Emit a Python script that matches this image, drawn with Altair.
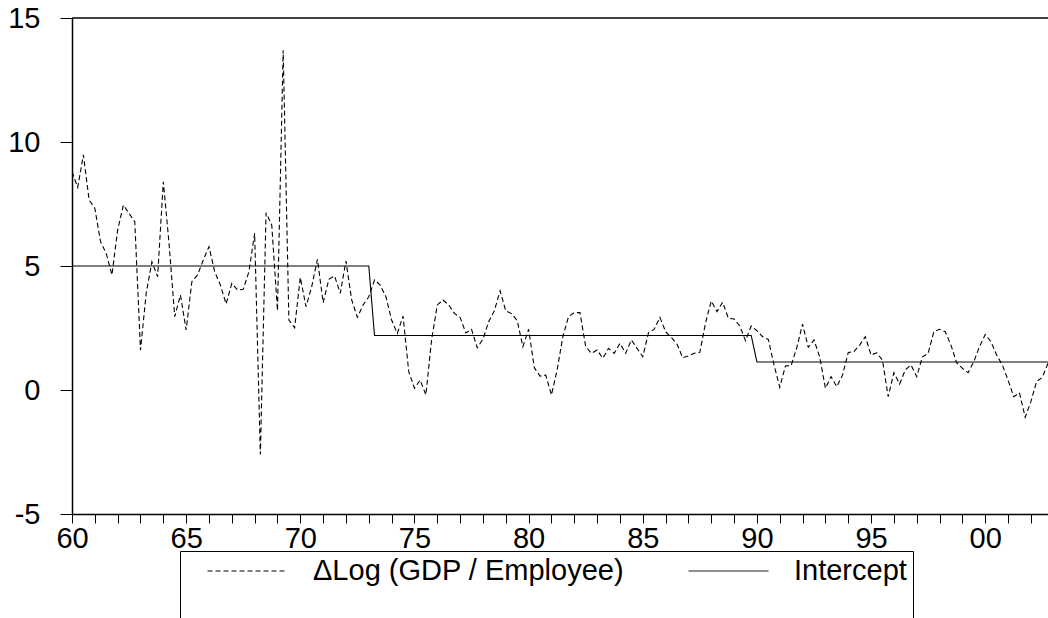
import altair as alt
import pandas as pd

# ---- data (quarterly, 1960Q1 ...) ----
start_year = 1960
gdp_growth = [
    8.8, 8.17, 9.48, 7.66, 7.33, 5.98, 5.51, 4.64, 6.45, 7.46,
    7.12, 6.79, 1.61, 3.9, 5.17, 4.57, 8.4, 5.91, 2.96, 3.83,
    2.42, 4.37, 4.64, 5.24, 5.78, 4.77, 4.23, 3.47, 4.3, 4.03,
    4.06, 4.77, 6.32, -2.6, 7.15, 6.65, 3.2, 13.7, 2.82, 2.51,
    4.54, 3.36, 4.17, 5.27, 3.52, 4.46, 4.6, 3.9, 5.2, 3.63,
    2.93, 3.43, 3.76, 4.44, 4.23, 3.76, 2.82, 2.28, 2.98, 0.74,
    0.07, 0.4, -0.2, 2.02, 3.43, 3.63, 3.43, 3.09, 2.93, 2.3,
    2.45, 1.7, 2.05, 2.75, 3.2, 4.0, 3.19, 3.08, 2.8, 1.75,
    2.45, 0.9, 0.56, 0.6, -0.2, 0.81, 2.15, 2.96, 3.12, 3.12,
    1.75, 1.48, 1.61, 1.28, 1.68, 1.48, 1.88, 1.48, 2.02, 1.68,
    1.34, 2.3, 2.45, 2.93, 2.35, 2.12, 1.85, 1.3, 1.37, 1.48,
    1.52, 2.7, 3.59, 3.16, 3.54, 2.89, 2.86, 2.58, 1.99, 2.58,
    2.39, 2.15, 2.04, 1.01, 0.11, 0.97, 0.99, 1.72, 2.66, 1.72,
    2.02, 1.34, 0.07, 0.54, 0.13, 0.6, 1.51, 1.55, 1.81, 2.15,
    1.41, 1.5, 1.2, -0.27, 0.7, 0.24, 0.81, 1.01, 0.54, 1.34,
    1.48, 2.35, 2.45, 2.35, 1.81, 1.1, 0.87, 0.7, 1.14, 1.75,
    2.24, 1.95, 1.41, 1.01, 0.4, -0.27, -0.11, -1.1, -0.47, 0.34,
    0.51, 1.08,
]
intercept_levels = [5.0, 2.2, 1.13]
intercept_breaks = [53, 120]          # first quarter index of each new regime
series_names = ["\u0394Log (GDP / Employee)", "Intercept"]
year_ticks = list(range(1960, 2003))
y_ticks = [-5, 0, 5, 10, 15]
x_domain = [1960, 2002.75]
y_domain = [-5, 15]

# ---- build table ----
n = len(gdp_growth)
years = [start_year + i / 4 for i in range(n)]
intercept = []
for i in range(n):
    lvl = intercept_levels[0]
    for b, v in zip(intercept_breaks, intercept_levels[1:]):
        if i >= b:
            lvl = v
    intercept.append(lvl)

df = pd.concat([
    pd.DataFrame({"year": years, "value": gdp_growth, "series": series_names[0]}),
    pd.DataFrame({"year": years, "value": intercept, "series": series_names[1]}),
])
frame_df = pd.DataFrame({"year": [x_domain[0]], "year_end": [x_domain[1]],
                         "value": [y_domain[1]]})

FONT = "Liberation Sans"
FS = 29

x_axis = alt.Axis(values=year_ticks, title=None, grid=False,
                  labelExpr="datum.value % 5 == 0 ? format(datum.value % 100, '02d') : ''",
                  labelOverlap=False, labelFlush=False, tickSize=9, labelPadding=1,
                  labelFontSize=FS, labelFont=FONT, labelColor="black",
                  tickColor="black", domainColor="black", domainWidth=1.5)
y_axis = alt.Axis(values=y_ticks, title=None, grid=False,
                  labelExpr="toString(datum.value)",
                  tickSize=12, labelPadding=20, labelFlush=False,
                  labelFontSize=FS, labelFont=FONT, labelColor="black",
                  tickColor="black", domainColor="black", domainWidth=1.5)
x_scale = alt.Scale(domain=x_domain, nice=False, zero=False)
y_scale = alt.Scale(domain=y_domain, nice=False, zero=False)

lines = alt.Chart(df).mark_line(color="black", strokeWidth=1.1, clip=True).encode(
    x=alt.X("year:Q", scale=x_scale, axis=x_axis),
    y=alt.Y("value:Q", scale=y_scale, axis=y_axis),
    strokeDash=alt.StrokeDash(
        "series:N",
        scale=alt.Scale(domain=series_names, range=[[5, 3], [1, 0]]),
        sort=series_names,
        legend=alt.Legend(
            title=" ", titleOrient="bottom", titleFontSize=34, titlePadding=4,
            orient="none", legendX=108, legendY=533, direction="horizontal",
            symbolType="stroke", symbolSize=6400, symbolStrokeWidth=1,
            symbolStrokeColor="black", symbolOffset=21,
            labelFontSize=FS, labelFont=FONT, labelColor="black", labelOffset=25,
            labelLimit=500, columnPadding=42, padding=6, clipHeight=28,
            strokeColor="black", fillColor="white"),
    ),
)

top_frame = alt.Chart(frame_df).mark_rule(color="black", strokeWidth=1.5).encode(
    x=alt.X("year:Q", scale=x_scale, axis=x_axis),
    x2="year_end:Q",
    y=alt.Y("value:Q", scale=y_scale, axis=y_axis),
)

chart = alt.layer(lines, top_frame).properties(
    width=976, height=496,
    autosize=alt.AutoSizeParams(type="none"),
    padding={"left": 72, "top": 18, "right": 0, "bottom": 110},
    background="white",
).configure_view(stroke=None)

chart.save("out.html", embed_options={"renderer": "svg", "actions": False})
